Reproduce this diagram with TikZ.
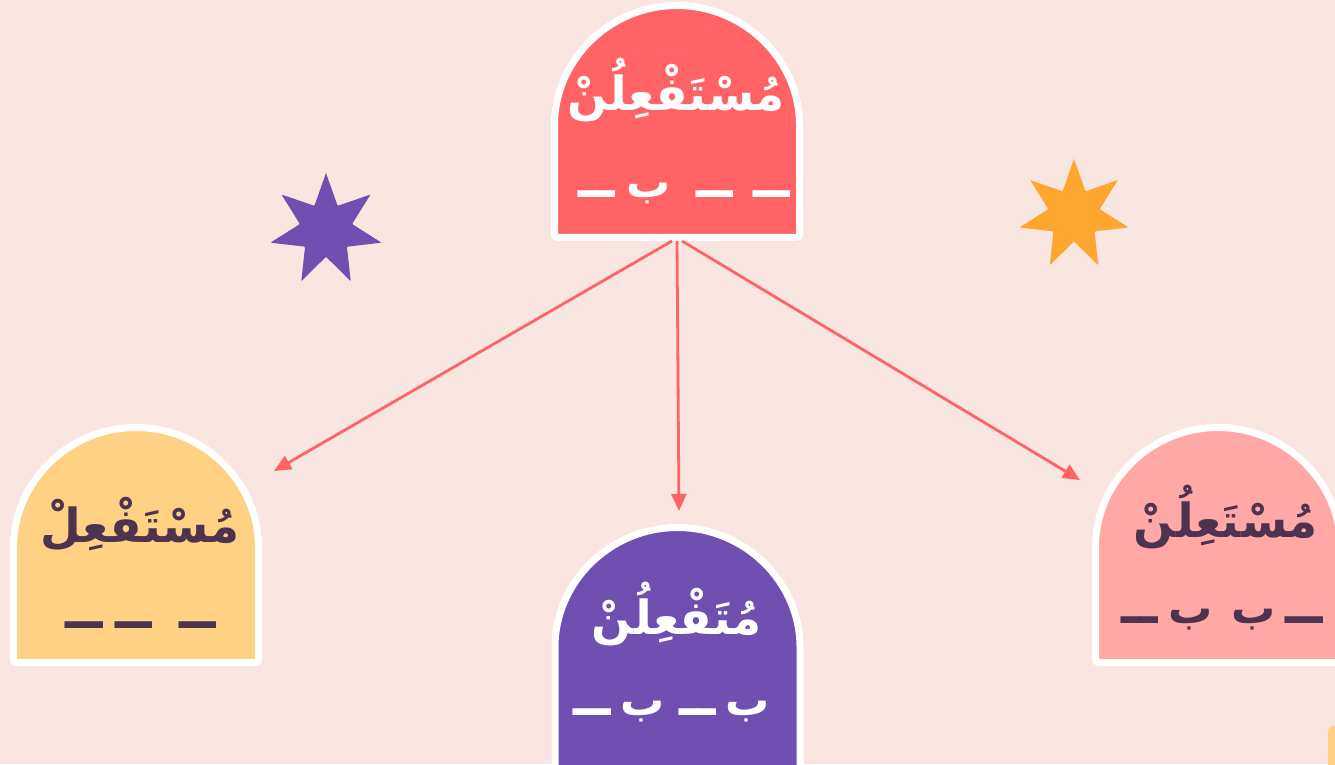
\documentclass[tikz,border=0pt]{standalone}
\usepackage{fontspec}
\usetikzlibrary{arrows.meta}
\TeXXeTstate=1
\newfontfamily\arabicfont[Script=Arabic]{DejaVu Sans}
\definecolor{bgc}{HTML}{FAE6E0}
\definecolor{redc}{HTML}{FF6366}
\definecolor{yelc}{HTML}{FFD185}
\definecolor{purc}{HTML}{6F50B0}
\definecolor{pinkc}{HTML}{FFA8A6}
\definecolor{darkc}{HTML}{4D3350}
\definecolor{orac}{HTML}{FFA630}
\newcommand\archshape[5]{% cx, center Y, radius, bottom Y, fill colour
  \filldraw[fill=#5,draw=white,line width=7pt,rounded corners=3pt]
    (#1-#3,#4) -- (#1-#3,#2) arc[start angle=180,end angle=0,radius=#3] -- (#1+#3,#4) -- cycle;}
\newcommand\sevenstar[4]{% cx, cy, outer radius, colour
  \begin{scope}[shift={(#1,#2)}]
  \fill[#4,rounded corners=1pt] (90:#3)
    \foreach \k in {0,...,6} {
      -- ({90+\k*360/7+180/7}:{0.47*#3}) -- ({90+(\k+1)*360/7}:#3)
    } -- cycle;
  \end{scope}}
\newcommand\ldash{{\fontsize{54}{60}\selectfont ــ}}
\newcommand\g[1]{\hspace{#1pt}}
\tikzset{
  titletext/.style={font=\arabicfont\bfseries\fontsize{47}{56}\selectfont, inner sep=0pt},
  patterntext/.style={font=\arabicfont\bfseries\fontsize{44}{56}\selectfont, inner sep=0pt},
  conn/.style={draw=redc, line width=2.8pt, -{Triangle[length=17pt,width=15pt]}}
}
\begin{document}
\begin{tikzpicture}[x=1pt,y=1pt]
\clip (0,0) rectangle (1335,764);
\fill[bgc] (0,0) rectangle (1335,764);
% stars
\sevenstar{326}{534}{57}{purc}
\sevenstar{1074}{549}{56}{orac}
% small shape at bottom right
\fill[yelc,rounded corners=6pt] (1328,-20) rectangle (1350,38);
% arches
\archshape{677}{636}{122.5}{526.5}{redc}
\archshape{136}{214}{122.5}{101.5}{yelc}
\archshape{677.5}{114}{122.5}{-30}{purc}
\archshape{1218}{214}{122.5}{101.5}{pinkc}
% texts
\node[titletext,text=white] (ttop) at (676,674) {\beginR مُسْتَفْعِلُنْ\endR};
\node[patterntext,text=white] (ptop) at (684,570) {\beginR\ldash\g{20}\ldash\g{25}ب\g{12}\ldash\endR};
\node[titletext,text=darkc] (tleft) at (140,240) {\beginR مُسْتَفْعِلْ\endR};
\node[patterntext,text=darkc] (pleft) at (141,139) {\beginR\ldash\g{27}\ldash\g{13}\ldash\endR};
\node[titletext,text=white] (tmid) at (677,150) {\beginR مُتَفْعِلُنْ\endR};
\node[patterntext,text=white] (pmid) at (672,52) {\beginR ب\g{10}\ldash\g{14}ب\g{10}\ldash\endR};
\node[titletext,text=darkc] (tright) at (1226,247) {\beginR مُسْتَعِلُنْ\endR};
\node[patterntext,text=darkc] (pright) at (1222,144) {\beginR\ldash\g{10}ب\g{19}ب\g{10}\ldash\endR};
% connectors
\coordinate (sl) at (672,523);
\coordinate (sm) at (677,523);
\coordinate (sr) at (682,523);
\coordinate (el) at (274,293);
\coordinate (em) at (679,253);
\coordinate (er) at (1080,284);
\draw[conn] (sl) -- (el);
\draw[conn] (sm) -- (em);
\draw[conn] (sr) -- (er);
\end{tikzpicture}
\end{document}
